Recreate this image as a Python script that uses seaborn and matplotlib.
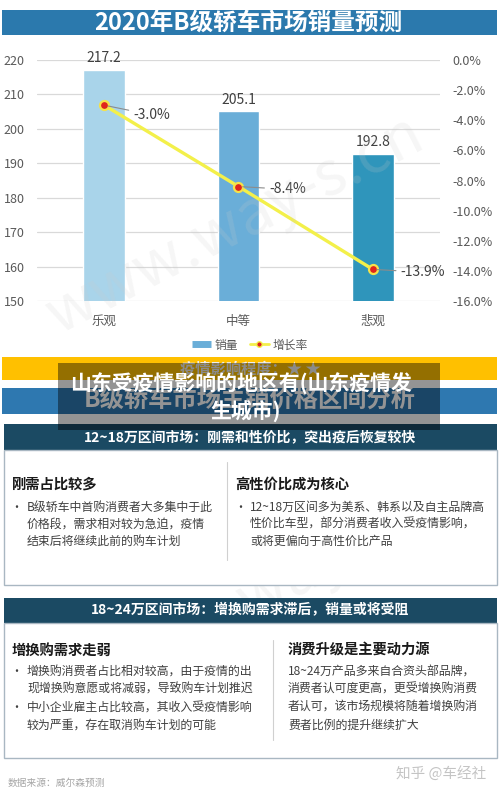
import numpy as np
import pandas as pd
import matplotlib
matplotlib.use("Agg")
import matplotlib.pyplot as plt
from matplotlib.patches import Rectangle
from matplotlib.lines import Line2D
import seaborn as sns

# ---------------- data ----------------
categories = ["乐观", "中等", "悲观"]
sales = [217.2, 205.1, 192.8]
growth = [-3.0, -8.4, -13.9]
left_ticks = [150, 160, 170, 180, 190, 200, 210, 220]
right_ticks = [-16, -14, -12, -10, -8, -6, -4, -2, 0]
bar_colors = ["#a9d4ea", "#6aaed8", "#2f95bb"]

title = "2020年B级轿车市场销量预测"
legend_labels = ["销量", "增长率"]
band1_text = "疫情影响程度：★ ★"
band2_text = "B级轿车市场主销价格区间分析"
overlay_lines = ["山东受疫情影响的地区有(山东疫情发", "生城市)"]

sec1_header = "12~18万区间市场：刚需和性价比，突出疫后恢复较快"
sec1_left_head = "刚需占比较多"
sec1_left_body = ["B级轿车中首购消费者大多集中于此", "价格段，需求相对较为急迫，疫情", "结束后将继续此前的购车计划"]
sec1_right_head = "高性价比成为核心"
sec1_right_body = ["12~18万区间多为美系、韩系以及自主品牌高", "性价比车型，部分消费者收入受疫情影响，", "或将更偏向于高性价比产品"]

sec2_header = "18~24万区间市场：增换购需求滞后，销量或将受阻"
sec2_left_head = "增换购需求走弱"
sec2_left_body1 = ["增换购消费者占比相对较高，由于疫情的出", "现增换购意愿或将减弱，导致购车计划推迟"]
sec2_left_body2 = ["中小企业雇主占比较高，其收入受疫情影响", "较为严重，存在取消购车计划的可能"]
sec2_right_head = "消费升级是主要动力源"
sec2_right_body = ["18~24万产品多来自合资头部品牌，", "消费者认可度更高，更受增换购消费", "者认可，该市场规模将随着增换购消", "费者比例的提升继续扩大"]

source_text = "数据来源：威尔森预测"
zhihu_text = "知乎 @车经社"
watermark = "www.way-s.cn"

# ---------------- style ----------------
sns.set_style("white")
plt.rcParams["font.family"] = ["Noto Sans CJK SC", "DejaVu Sans"]

W, H = 500, 795
fig = plt.figure(figsize=(5, 7.95), dpi=100)
fig.patch.set_facecolor("white")

def fx(px):
    return px / W

def fy(py):
    return 1 - py / H

def rect(x0, y0, x1, y1, **kw):
    r = Rectangle((fx(x0), fy(y1)), fx(x1) - fx(x0), fy(y0) - fy(y1),
                  transform=fig.transFigure, **kw)
    fig.patches.append(r)
    return r

def line(x0, y0, x1, y1, **kw):
    fig.add_artist(Line2D([fx(x0), fx(x1)], [fy(y0), fy(y1)], transform=fig.transFigure, **kw))

def txt(x, y, s, **kw):
    kw.setdefault("va", "center")
    return fig.text(fx(x), fy(y), s, **kw)

# ---------------- title bar ----------------
rect(2, 10, 497, 35, facecolor="#2b79ad", edgecolor="none")
txt(248, 22.5, title, ha="center", color="white", fontsize=17, fontweight="bold")

# ---------------- chart ----------------
ax = fig.add_axes([fx(37), fy(301), fx(440) - fx(37), fy(60) - fy(301)])
df = pd.DataFrame({"cat": categories, "sales": sales, "growth": growth})
sns.barplot(data=df, x="cat", y="sales", hue="cat", palette=bar_colors, legend=False,
            width=0.31, saturation=1, ax=ax, zorder=2)
ax.set_ylim(150, 220)
ax.set_xlim(-0.5, 2.5)
ax.set_yticks(left_ticks)
ax.set_yticklabels([str(v) for v in left_ticks])
ax.yaxis.grid(True, color="#d9d9d9", lw=0.9, zorder=0)
ax.set_axisbelow(True)
ax.set_xlabel("")
ax.set_ylabel("")
for s in ax.spines.values():
    s.set_visible(False)
ax.tick_params(axis="y", length=0, pad=9, labelsize=9, labelcolor="#595959")
ax.tick_params(axis="x", length=0, pad=10, labelsize=9, labelcolor="#595959")
for i, v in enumerate(sales):
    ax.annotate(f"{v:.1f}", xy=(i, v), xytext=(0, 3), textcoords="offset points",
                ha="center", va="bottom", fontsize=10, color="#404040", annotation_clip=False)

ax2 = ax.twinx()
pos = np.arange(len(categories))
sns.lineplot(x=pos, y=growth, ax=ax2, color="#f3f04a", lw=2.4, zorder=3)
sns.scatterplot(x=pos, y=growth, ax=ax2, color="#e0241c", edgecolor="#f6e24a",
                s=42, linewidth=1.6, zorder=4)
ax2.set_ylim(-16, 0)
ax2.set_yticks(right_ticks)
ax2.set_yticklabels([f"{abs(v):.1f}%" if v == 0 else f"{v:.1f}%" for v in right_ticks])
ax2.set_ylabel("")
for s in ax2.spines.values():
    s.set_visible(False)
ax2.tick_params(axis="y", length=0, pad=9, labelsize=9, labelcolor="#595959")
ax2.set_xlim(-0.5, 2.5)
offsets = [(21, -7), (22, -2), (20, -2)]
for i, g in enumerate(growth):
    ax2.annotate(f"{g:.1f}%", xy=(i, g), xytext=offsets[i], textcoords="offset points",
                 ha="left", va="center", fontsize=10, color="#404040",
                 arrowprops=dict(arrowstyle="-", color="#8c8c8c", lw=0.8, shrinkA=1, shrinkB=3),
                 annotation_clip=False, zorder=5)

# legend
handles = [Line2D([0], [0], color="#6aaed8", lw=5, solid_capstyle="butt"),
           Line2D([0], [0], color="#f3f04a", lw=2, marker="o", markersize=4,
                  markerfacecolor="#e0241c", markeredgecolor="#f3f04a")]
fig.legend(handles, legend_labels, loc="center", bbox_to_anchor=(fx(250), fy(345)), ncol=2,
           frameon=False, fontsize=8.5, handlelength=1.6, columnspacing=1.0, handletextpad=0.3,
           labelcolor="#595959")

# watermarks (very faint)
txt(235, 225, watermark, ha="center", fontsize=44, color="#cccccc", rotation=27, zorder=0.5, alpha=0.18)
txt(280, 585, watermark, ha="center", fontsize=44, color="#cccccc", rotation=27, zorder=0.5, alpha=0.18)

# ---------------- bands + overlay ----------------
rect(2, 357, 497, 380, facecolor="#ffc000", edgecolor="none")
txt(250, 368, band1_text, ha="center", color="#f0f0f0", fontsize=11, fontweight="bold")
rect(2, 388, 497, 414, facecolor="#2e78b0", edgecolor="none")
txt(250, 401, band2_text, ha="center", color="white", fontsize=17.5, fontweight="bold")

# section 1
rect(4, 424, 497, 450, facecolor="#1b4a63", edgecolor="none")
rect(4, 450, 497, 585, facecolor="white", edgecolor="#a9b7c2", lw=1)
txt(250, 437.5, sec1_header, ha="center", color="white", fontsize=10, fontweight="bold", zorder=3)

rect(58, 363, 440, 430, facecolor="black", edgecolor="none", alpha=0.42, zorder=4)
txt(241, 384, overlay_lines[0], ha="center", color="white", fontsize=15, fontweight="bold", zorder=5)
txt(246, 411, overlay_lines[1], ha="center", color="white", fontsize=15, fontweight="bold", zorder=5)

line(227, 462, 227, 560, color="#d0d0d0", lw=0.8)
txt(12, 485, sec1_left_head, ha="left", color="#1a1a1a", fontsize=10.3, fontweight="bold")
txt(235, 485, sec1_right_head, ha="left", color="#1a1a1a", fontsize=10.3, fontweight="bold")
body_y1 = [507, 524, 541]
txt(16, body_y1[0], "•", ha="center", color="#404040", fontsize=8.6)
for y, s in zip(body_y1, sec1_left_body):
    txt(27, y, s, ha="left", color="#404040", fontsize=8.6)
txt(240, body_y1[0], "•", ha="center", color="#404040", fontsize=8.6)
for y, s in zip(body_y1, sec1_right_body):
    txt(250, y, s, ha="left", color="#404040", fontsize=8.6)

# section 2
rect(4, 598, 497, 623, facecolor="#1b4a63", edgecolor="none")
rect(4, 623, 497, 758, facecolor="white", edgecolor="#a9b7c2", lw=1)
txt(250, 610.5, sec2_header, ha="center", color="white", fontsize=10, fontweight="bold")
line(273, 640, 273, 740, color="#d0d0d0", lw=0.8)
txt(12, 651, sec2_left_head, ha="left", color="#1a1a1a", fontsize=10.3, fontweight="bold")
txt(288, 651, sec2_right_head, ha="left", color="#1a1a1a", fontsize=10.3, fontweight="bold")
y_b1 = [672, 689]
y_b2 = [708, 726]
txt(16, y_b1[0], "•", ha="center", color="#404040", fontsize=8.6)
for y, s in zip(y_b1, sec2_left_body1):
    txt(27, y, s, ha="left", color="#404040", fontsize=8.6)
txt(16, y_b2[0], "•", ha="center", color="#404040", fontsize=8.6)
for y, s in zip(y_b2, sec2_left_body2):
    txt(27, y, s, ha="left", color="#404040", fontsize=8.6)
for y, s in zip([672, 689, 707, 725], sec2_right_body):
    txt(288, y, s, ha="left", color="#404040", fontsize=8.6)

# footer
txt(8, 783, source_text, ha="left", color="#a6a6a6", fontsize=7)
txt(441, 773, zhihu_text, ha="center", color="#c4c4c4", fontsize=10.5)

fig.savefig("out.png", dpi=100)
